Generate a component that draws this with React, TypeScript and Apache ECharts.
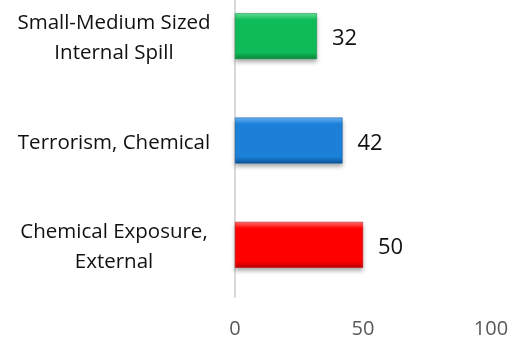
import React, { useEffect, useRef } from "react";
import * as echarts from "echarts";

const categories = [
  "Chemical Exposure,\nExternal",
  "Terrorism, Chemical",
  "Small-Medium Sized\nInternal Spill",
];
const values = [50, 42, 32];
const barColors = [
  { light: "#ff6a6a", base: "#ff0000", dark: "#b80000" },
  { light: "#66b2f2", base: "#1a7fd8", dark: "#0d5597" },
  { light: "#5edc92", base: "#10bb58", dark: "#08843a" },
];
const xTicks = [0, 50, 100];

const FONT = "Open Sans";

export default function App() {
  const ref = useRef<HTMLDivElement>(null);
  useEffect(() => {
    const chart = echarts.init(ref.current!, null, { renderer: "svg" });
    chart.setOption({
      animation: false,
      grid: { left: 235, right: 25, top: 0, bottom: 44, containLabel: false },
      xAxis: {
        type: "value",
        min: xTicks[0],
        max: xTicks[xTicks.length - 1],
        interval: 50,
        axisLine: { show: false },
        axisTick: { show: false },
        splitLine: { show: false },
        axisLabel: {
          color: "#595959",
          fontSize: 20,
          fontFamily: FONT,
          margin: 20,
        },
      },
      yAxis: {
        type: "category",
        data: categories,
        axisLine: { show: true, lineStyle: { color: "#d9d9d9", width: 2 } },
        axisTick: { show: false },
        axisLabel: {
          color: "#111",
          fontSize: 20.5,
          fontFamily: FONT,
          lineHeight: 30,
          align: "center",
          margin: 121,
        },
      },
      series: [
        {
          type: "bar",
          barWidth: "44%",
          data: values.map((v, i) => ({
            value: v,
            itemStyle: {
              color: new echarts.graphic.LinearGradient(0, 0, 0, 1, [
                { offset: 0, color: barColors[i].light },
                { offset: 0.14, color: barColors[i].base },
                { offset: 0.86, color: barColors[i].base },
                { offset: 1, color: barColors[i].dark },
              ]),
              borderColor: barColors[i].dark,
              borderWidth: 0.5,
              shadowColor: "rgba(0,0,0,0.35)",
              shadowBlur: 4,
              shadowOffsetY: 3,
            },
          })),
          label: {
            show: true,
            position: "right",
            distance: 15,
            color: "#111",
            fontSize: 22,
            fontFamily: FONT,
          },
        },
      ],
    });
    return () => chart.dispose();
  }, []);
  return (
    <div
      style={{
        position: "fixed",
        left: 0,
        top: 0,
        width: 516,
        height: 341,
        overflow: "hidden",
      }}
    >
      <div
        ref={ref}
        style={{ position: "absolute", left: 0, top: -16, width: 516, height: 357 }}
      />
    </div>
  );
}
